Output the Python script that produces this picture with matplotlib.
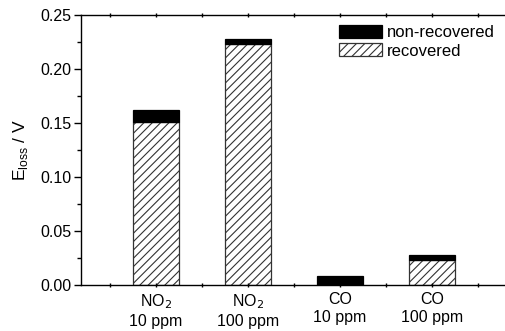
import matplotlib
matplotlib.use("Agg")
import matplotlib.pyplot as plt
import numpy as np

plt.rcParams['font.family'] = ['Liberation Sans', 'DejaVu Sans']
plt.rcParams['hatch.linewidth'] = 0.8

categories = ["NO$_2$\n10 ppm", "NO$_2$\n100 ppm", "CO\n10 ppm", "CO\n100 ppm"]
positions = [1, 2, 3, 4]
recovered = [0.151, 0.223, 0.0, 0.0234]
non_recovered = [0.011, 0.0045, 0.0086, 0.0046]

fig = plt.figure(figsize=(5.05, 3.31), dpi=100)
ax = fig.add_axes([0.160, 0.138, 0.840, 0.817])

ax.bar(positions, recovered, width=0.5, color='white', edgecolor='#333333',
       hatch='////', linewidth=0.9, label='recovered')
ax.bar(positions, non_recovered, width=0.5, bottom=recovered, color='black',
       edgecolor='black', linewidth=0.9, label='non-recovered')

ax.set_xlim(0.185, 4.79)
ax.set_ylim(0, 0.25)
ax.set_yticks(np.arange(0, 0.251, 0.05))
ax.set_yticks(np.arange(0.025, 0.25, 0.05), minor=True)
ax.set_yticklabels(["%.2f" % v for v in np.arange(0, 0.251, 0.05)], fontsize=11.5)
ax.set_xticks(positions)
ax.set_xticklabels(categories, fontsize=11.5, linespacing=1.25)
ax.set_xticks([0.5, 1.5, 2.5, 3.5, 4.5], minor=True)

ax.spines['right'].set_visible(False)
for s in ['left', 'bottom', 'top']:
    ax.spines[s].set_linewidth(1.0)

ax.tick_params(axis='y', which='major', direction='out', length=5, width=1, pad=2)
ax.tick_params(axis='y', which='minor', direction='out', length=3, width=1)
ax.tick_params(axis='x', which='both', direction='inout', length=2.5, width=1,
               top=True, pad=3.5)

ax.set_ylabel("E$_{\\mathregular{loss}}$ / V", fontsize=12.5, labelpad=7)

handles, labels = ax.get_legend_handles_labels()
ax.legend(handles[::-1], labels[::-1], loc='upper right', frameon=False, fontsize=12,
          handlelength=2.6, handleheight=0.8, handletextpad=0.3, labelspacing=0.2,
          borderaxespad=0.2, bbox_to_anchor=(1.0, 1.0))

fig.savefig("out.png", dpi=100)
